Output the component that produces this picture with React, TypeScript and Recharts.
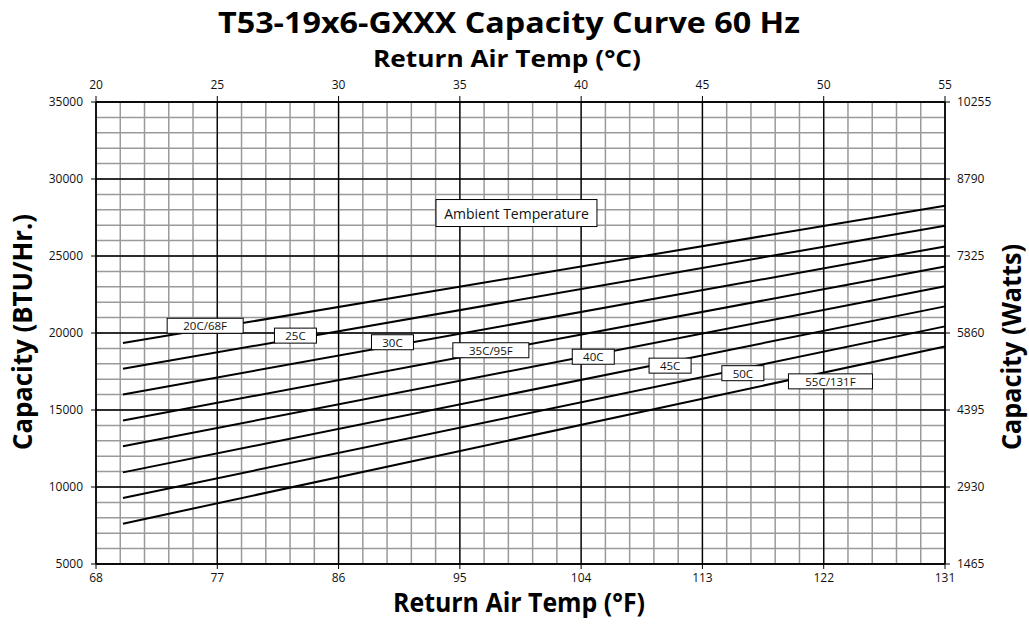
import { LineChart, Line, XAxis, YAxis, CartesianGrid, ReferenceDot } from 'recharts'

const fTicks = [68, 77, 86, 95, 104, 113, 122, 131]
const cTicks = [20, 25, 30, 35, 40, 45, 50, 55]
const btuTicks = [5000, 10000, 15000, 20000, 25000, 30000, 35000]
const wattTicks = [1465, 2930, 4395, 5860, 7325, 8790, 10255]

// one line per ambient temperature, straight from 70F to 131F
const ambientNames = ['20C/68F', '25C', '30C', '35C/95F', '40C', '45C', '50C', '55C/131F']
const startF = 70
const endF = 131
const startBtu = [19350, 17680, 16010, 14320, 12640, 10950, 9290, 7620]
const endBtu = [28270, 26970, 25620, 24320, 23030, 21730, 20430, 19130]

// where the tag boxes sit on each line
const labelF = [76.1, 82.8, 90.0, 97.3, 104.9, 110.6, 116.0, 122.5]
const labelBtu = [20470, 19830, 19400, 18880, 18460, 17880, 17390, 16860]

const legendTitle = 'Ambient Temperature'
const legendF = 99.2
const legendBtu = 27790

// minor grid every 1C and every 1000 BTU
const minorC = Array.from({ length: 36 }, (_, i) => 20 + i)
const minorBtu = Array.from({ length: 31 }, (_, i) => 5000 + i * 1000)

const FONT = '"Open Sans", "DejaVu Sans", sans-serif'

const toC = (f: number) => ((f - 32) * 5) / 9
const toW = (btu: number) => btu * 0.293

const series = ambientNames.map((name, i) => ({
  name,
  data: [
    { f: startF, btu: startBtu[i] },
    { f: endF, btu: endBtu[i] },
  ],
}))

// same curves in C / Watts, drawn invisibly so the top and right axes get data
const metric = series.flatMap((s) => s.data.map((d) => ({ c: toC(d.f), w: toW(d.btu) })))

function Tag({ cx, cy, text, small }: { cx?: number; cy?: number; text: string; small: boolean }) {
  if (cx == null || cy == null) return null
  const w = small ? Math.round(text.length * 8.4 + 17) : 161
  const h = small ? 15 : 27
  return (
    <g>
      <rect x={cx - w / 2} y={cy - h / 2} width={w} height={h} fill="#fff" stroke="#000" strokeWidth={1} />
      <text
        x={cx}
        y={cy}
        textAnchor="middle"
        dominantBaseline="central"
        fontSize={small ? 11.5 : 14}
        fontFamily={FONT}
        fill="#111"
      >
        {text}
      </text>
    </g>
  )
}

const axisProps = {
  axisLine: { stroke: '#000', strokeWidth: 1.3 },
  tickLine: { stroke: '#000' },
  tick: { fill: '#111', fontSize: 12 },
  interval: 0 as const,
}

export default function App() {
  return (
    <div style={{ position: 'relative', width: 1029, height: 625, background: '#fff', fontFamily: FONT }}>
      <style>{'body{margin:0}'}</style>
      <LineChart width={1029} height={625} margin={{ top: 72, right: 24, bottom: 31, left: 36 }}>
        <CartesianGrid
          xAxisId="c"
          yAxisId="btu"
          verticalValues={minorC}
          horizontalValues={minorBtu}
          stroke="#9a9a9a"
          strokeWidth={1.5}
        />
        <CartesianGrid xAxisId="f" yAxisId="btu" stroke="#000" strokeWidth={1.3} />
        <XAxis
          {...axisProps}
          xAxisId="f"
          dataKey="f"
          type="number"
          domain={[68, 131]}
          ticks={fTicks}
          height={30}
          tickSize={5}
          tickMargin={4}
        />
        <XAxis
          {...axisProps}
          xAxisId="c"
          dataKey="c"
          orientation="top"
          type="number"
          domain={[20, 55]}
          ticks={cTicks}
          height={30}
          tickSize={6}
          tickMargin={7}
        />
        <YAxis
          {...axisProps}
          yAxisId="btu"
          type="number"
          domain={[5000, 35000]}
          ticks={btuTicks}
          width={60}
          tickSize={5}
          tickMargin={8}
        />
        <YAxis
          {...axisProps}
          yAxisId="w"
          orientation="right"
          type="number"
          domain={[1465, 10255]}
          ticks={wattTicks}
          width={60}
          tickSize={5}
          tickMargin={7}
        />
        <Line
          xAxisId="c"
          yAxisId="w"
          data={metric}
          dataKey="w"
          stroke="none"
          dot={false}
          activeDot={false}
          isAnimationActive={false}
        />
        {series.map((s) => (
          <Line
            key={s.name}
            xAxisId="f"
            yAxisId="btu"
            data={s.data}
            dataKey="btu"
            stroke="#000"
            strokeWidth={2}
            dot={false}
            isAnimationActive={false}
          />
        ))}
        {ambientNames.map((name, i) => (
          <ReferenceDot
            key={name}
            xAxisId="f"
            yAxisId="btu"
            x={labelF[i]}
            y={labelBtu[i]}
            shape={(p: any) => <Tag cx={p.cx} cy={p.cy} text={name} small />}
          />
        ))}
        <ReferenceDot
          xAxisId="f"
          yAxisId="btu"
          x={legendF}
          y={legendBtu}
          shape={(p: any) => <Tag cx={p.cx} cy={p.cy} text={legendTitle} small={false} />}
        />
      </LineChart>
      <svg
        width={1029}
        height={625}
        style={{ position: 'absolute', left: 0, top: 0, pointerEvents: 'none' }}
        fontFamily={FONT}
        fontWeight={700}
        fill="#000"
      >
        <text x={509} y={33} textAnchor="middle" fontSize={29} textLength={582} lengthAdjust="spacingAndGlyphs">
          T53-19x6-GXXX Capacity Curve 60 Hz
        </text>
        <text x={507} y={67} textAnchor="middle" fontSize={24} textLength={268} lengthAdjust="spacingAndGlyphs">
          Return Air Temp (°C)
        </text>
        <text x={519} y={612} textAnchor="middle" fontSize={26} textLength={252} lengthAdjust="spacingAndGlyphs">
          Return Air Temp (°F)
        </text>
        <text
          x={0}
          y={0}
          transform="translate(32 332) rotate(-90)"
          textAnchor="middle"
          fontSize={26}
          textLength={236}
          lengthAdjust="spacingAndGlyphs"
        >
          Capacity (BTU/Hr.)
        </text>
        <text
          x={0}
          y={0}
          transform="translate(1021 347) rotate(-90)"
          textAnchor="middle"
          fontSize={26}
          textLength={206}
          lengthAdjust="spacingAndGlyphs"
        >
          Capacity (Watts)
        </text>
      </svg>
    </div>
  )
}
